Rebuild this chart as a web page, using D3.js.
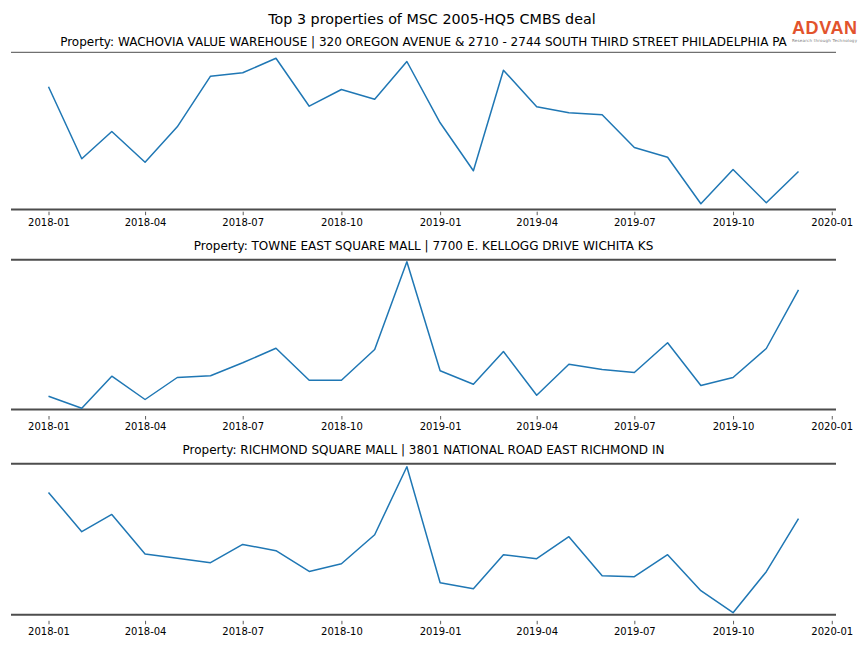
<!DOCTYPE html>
<html>
<head>
<meta charset="utf-8">
<script src="https://cdn.jsdelivr.net/npm/d3@7"></script>
<style>
  html, body { margin: 0; padding: 0; background: #fff; }
  svg { display: block; font-family: "DejaVu Sans", sans-serif; }
</style>
</head>
<body>
<svg id="chart" width="864" height="648"></svg>
<script>
// ---- data ----
const months = [
  "2018-01","2018-02","2018-03","2018-04","2018-05","2018-06",
  "2018-07","2018-08","2018-09","2018-10","2018-11","2018-12",
  "2019-01","2019-02","2019-03","2019-04","2019-05","2019-06",
  "2019-07","2019-08","2019-09","2019-10","2019-11","2019-12"
];
const titleMain = "Top 3 properties of MSC 2005-HQ5 CMBS deal";
const propertyTitles = [
  "Property: WACHOVIA VALUE WAREHOUSE | 320 OREGON AVENUE & 2710 - 2744 SOUTH THIRD STREET PHILADELPHIA PA",
  "Property: TOWNE EAST SQUARE MALL | 7700 E. KELLOGG DRIVE WICHITA KS",
  "Property: RICHMOND SQUARE MALL | 3801 NATIONAL ROAD EAST RICHMOND IN"
];
const wachovia = [1227, 507, 780, 473, 827, 1333, 1367, 1513, 1033, 1200, 1103, 1480,
                  867, 387, 1393, 1027, 967, 947, 620, 523, 57, 400, 67, 380];
const towneEast = [133, 13, 333, 100, 320, 337, 467, 613, 293, 293, 600, 1477,
                   387, 253, 580, 143, 453, 400, 370, 667, 240, 320, 610, 1197];
const richmond = [1223, 830, 1003, 607, 564, 520, 703, 640, 433, 510, 800, 1480,
                  320, 260, 600, 560, 780, 390, 380, 600, 240, 20, 430, 960];
const seriesList = [wachovia, towneEast, richmond];
const yLimits = [1572, 1498, 1510];
const tickLabels = ["2018-01","2018-04","2018-07","2018-10","2019-01","2019-04","2019-07","2019-10","2020-01"];

// ---- layout ----
const svg = d3.select("#chart");
const parse = d3.timeParse("%Y-%m");
const dates = months.map(parse);
const left = 11, right = 836;
const t0 = dates[0], t1 = dates[dates.length - 1];
const span = t1 - t0;
const x = d3.scaleTime()
  .domain([new Date(+t0 - span * 0.05), new Date(+t1 + span * 0.05)])
  .range([left, right]);

const panels = [
  { top: 52.3, bottom: 209.5, axisY: 211.7, titleY: 42, topW: 1 },
  { top: 259.7, bottom: 409.5, axisY: 416, titleY: 246, topW: 2 },
  { top: 463.7, bottom: 614.7, axisY: 620.8, titleY: 450, topW: 2 }
];
const spineColor = "#4d4d4d";

svg.append("text")
  .attr("x", 432).attr("y", 19)
  .attr("text-anchor", "middle").attr("dominant-baseline", "central")
  .attr("font-size", 14.3).attr("fill", "#000")
  .text(titleMain);

panels.forEach((p, i) => {
  const vals = seriesList[i];
  const y = d3.scaleLinear().domain([0, yLimits[i]]).range([p.bottom, p.top]);
  const g = svg.append("g");

  g.append("text")
    .attr("x", (left + right) / 2).attr("y", p.titleY)
    .attr("text-anchor", "middle").attr("dominant-baseline", "central")
    .attr("font-size", 12).attr("fill", "#000")
    .text(propertyTitles[i]);

  // top and bottom rules
  g.append("line").attr("x1", left).attr("x2", right)
    .attr("y1", p.top).attr("y2", p.top)
    .attr("stroke", spineColor).attr("stroke-width", p.topW);
  g.append("line").attr("x1", left).attr("x2", right)
    .attr("y1", p.bottom).attr("y2", p.bottom)
    .attr("stroke", spineColor).attr("stroke-width", 2);

  const line = d3.line()
    .x((d, k) => x(dates[k]))
    .y(d => y(d));
  g.append("path").datum(vals)
    .attr("d", line)
    .attr("fill", "none")
    .attr("stroke", "#1f77b4")
    .attr("stroke-width", 1.5)
    .attr("stroke-linejoin", "round");

  const axis = d3.axisBottom(x)
    .tickValues(tickLabels.map(parse))
    .tickFormat(d3.timeFormat("%Y-%m"))
    .tickSize(3.5).tickPadding(3.5);
  const ax = g.append("g").attr("transform", `translate(0,${p.axisY})`).call(axis);
  ax.select(".domain").remove();
  ax.selectAll(".tick line").attr("stroke", "#333").attr("stroke-width", 0.8);
  ax.selectAll(".tick text").attr("font-size", 10).attr("fill", "#000")
    .attr("font-family", "DejaVu Sans, sans-serif");
});

// logo
const logo = svg.append("g");
logo.append("text")
  .attr("x", 824.5).attr("y", 34)
  .attr("text-anchor", "middle")
  .attr("font-size", 18).attr("font-weight", "bold")
  .attr("font-family", "Liberation Sans, Arial, sans-serif")
  .attr("fill", "#e2532d")
  .attr("textLength", 65)
  .text("ADVAN");
logo.append("text")
  .attr("x", 824.5).attr("y", 41.5)
  .attr("text-anchor", "middle")
  .attr("font-size", 4)
  .attr("fill", "#777")
  .attr("textLength", 65)
  .text("Research through Technology");
</script>
</body>
</html>
